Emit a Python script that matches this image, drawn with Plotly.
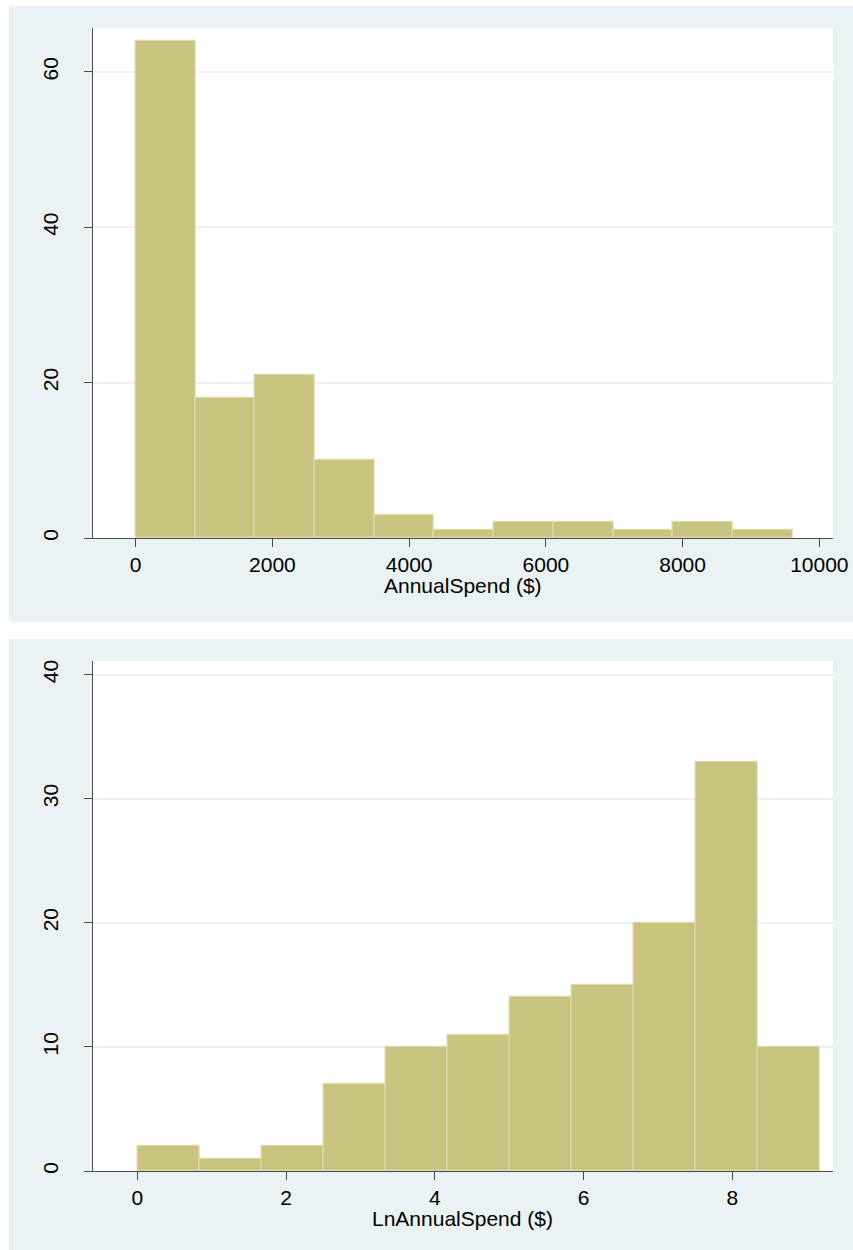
import numpy as np
import plotly.graph_objects as go

# Histogram counts (11 equal-width bins each)
spend_counts = [64, 18, 21, 10, 3, 1, 2, 2, 1, 2, 1]
spend_min, spend_max = 0.0, 9605.0

ln_counts = [2, 1, 2, 7, 10, 11, 14, 15, 20, 33, 10]
ln_min, ln_max = 0.0, 9.17

spend_ticks = [0, 2000, 4000, 6000, 8000, 10000]
spend_ticktext = ["0", "2000", "4000", "6000", "8000", "10000"]
spend_yticks = [0, 20, 40, 60]
ln_ticks = [0, 2, 4, 6, 8]
ln_yticks = [0, 10, 20, 30, 40]

W, H = 853, 1250
PANEL = "#EAF2F3"
BAR = "rgb(201,195,128)"
BAR_EDGE = "rgb(223,219,168)"
AXIS = "#4a4a4a"
FONT = "Liberation Sans, Arial, sans-serif"


def bins(counts, lo, hi):
    edges = np.linspace(lo, hi, len(counts) + 1)
    return (edges[:-1] + edges[1:]) / 2, edges[1] - edges[0]


fig = go.Figure()

for i, (counts, lo, hi) in enumerate([(spend_counts, spend_min, spend_max),
                                       (ln_counts, ln_min, ln_max)]):
    centers, width = bins(counts, lo, hi)
    fig.add_trace(go.Bar(
        x=centers, y=counts, width=width,
        marker=dict(color=BAR, line=dict(color=BAR_EDGE, width=1.2)),
        xaxis="x" if i == 0 else "x2", yaxis="y" if i == 0 else "y2",
        showlegend=False, hoverinfo="x+y",
    ))

# pixel geometry of the two panels and their plot regions
def px_x(v):
    return v / W

def px_y(v):
    return 1 - v / H

plot_l, plot_r = 92.7, 833.0
top_plot = (28.0, 538.0)
bot_plot = (661.0, 1171.0)

shapes = [
    dict(type="rect", xref="paper", yref="paper", x0=px_x(9), x1=1.0,
         y0=px_y(622), y1=px_y(6), fillcolor=PANEL, line_width=0, layer="below"),
    dict(type="rect", xref="paper", yref="paper", x0=px_x(9), x1=1.0,
         y0=0.0, y1=px_y(639), fillcolor=PANEL, line_width=0, layer="below"),
    dict(type="rect", xref="paper", yref="paper", x0=px_x(plot_l), x1=px_x(plot_r),
         y0=px_y(top_plot[1]), y1=px_y(top_plot[0]), fillcolor="white",
         line_width=0, layer="below"),
    dict(type="rect", xref="paper", yref="paper", x0=px_x(plot_l), x1=px_x(plot_r),
         y0=px_y(bot_plot[1]), y1=px_y(bot_plot[0]), fillcolor="white",
         line_width=0, layer="below"),
]

tickfont = dict(family=FONT, size=21, color="black")
titlefont = dict(family=FONT, size=21, color="black")

xcommon = dict(showline=True, linecolor=AXIS, linewidth=1.2, ticks="outside",
               ticklen=8, tickcolor=AXIS, tickwidth=1.2, showgrid=False,
               zeroline=False, tickfont=tickfont, ticklabelstandoff=0,
               automargin=False)
ycommon = dict(showline=True, linecolor=AXIS, linewidth=1.2, ticks="outside",
               ticklen=8, tickcolor=AXIS, tickwidth=1.2, showgrid=True,
               gridcolor=PANEL, gridwidth=2, zeroline=False, tickfont=tickfont,
               tickangle=-90, ticklabelstandoff=17, automargin=False)

plot_cx = px_x((plot_l + plot_r) / 2)
annotations = [
    dict(text="AnnualSpend ($)", xref="paper", yref="paper", x=plot_cx,
         y=px_y(585), xanchor="center", yanchor="middle", showarrow=False,
         font=titlefont),
    dict(text="LnAnnualSpend ($)", xref="paper", yref="paper", x=plot_cx,
         y=px_y(1218), xanchor="center", yanchor="middle", showarrow=False,
         font=titlefont),
]

fig.update_layout(
    width=W, height=H, autosize=False,
    margin=dict(l=0, r=0, t=0, b=0, pad=0, autoexpand=False),
    paper_bgcolor="white", plot_bgcolor="rgba(0,0,0,0)",
    bargap=0, shapes=shapes, annotations=annotations,
    xaxis=dict(domain=[px_x(plot_l), px_x(plot_r)], anchor="y",
               range=[-629, 10200], tickvals=spend_ticks,
               ticktext=spend_ticktext, **xcommon),
    yaxis=dict(domain=[px_y(top_plot[1]), px_y(top_plot[0])], anchor="x",
               range=[0, 65.66], tickvals=spend_yticks, **ycommon),
    xaxis2=dict(domain=[px_x(plot_l), px_x(plot_r)], anchor="y2",
                range=[-0.6, 9.354], tickvals=ln_ticks, **xcommon),
    yaxis2=dict(domain=[px_y(bot_plot[1]), px_y(bot_plot[0])], anchor="x2",
                range=[0, 41.1], tickvals=ln_yticks, **ycommon),
)

fig.write_html("out.html")
